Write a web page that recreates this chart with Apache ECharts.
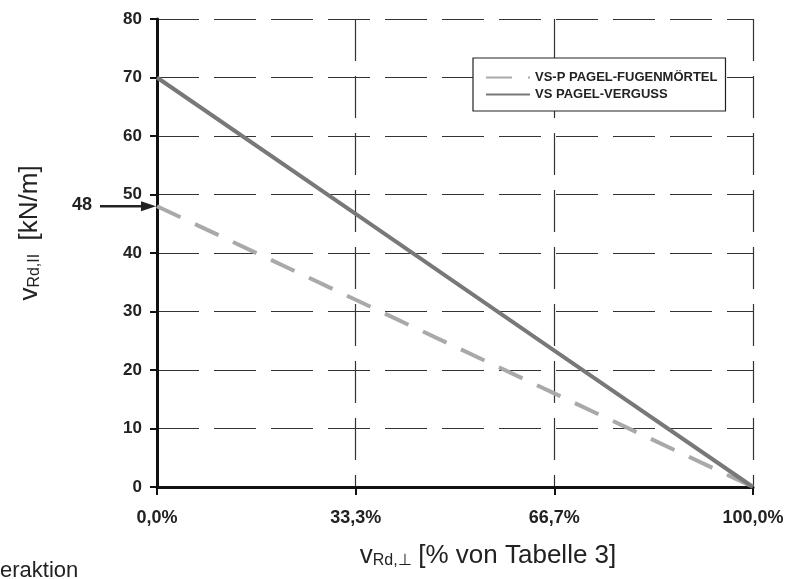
<!DOCTYPE html>
<html><head><meta charset="utf-8">
<script src="https://cdn.jsdelivr.net/npm/echarts@6/dist/echarts.min.js"></script>
<style>html,body{margin:0;padding:0;background:#fff}#c{width:788px;height:579px}</style>
</head><body><div id="c"></div>
<script>
var categories = ['0,0%', '33,3%', '66,7%', '100,0%'];
var fugenmoertel = [48, 32, 16, 0];
var verguss = [70, 46.7, 23.3, 0];
var yTicks = [0, 10, 20, 30, 40, 50, 60, 70, 80];
var markValue = 48;

var chart = echarts.init(document.getElementById('c'));
var gridDash = {type: [42, 15], color: '#333', width: 1.2};
var nameRich = {
  v: {fontFamily: 'Liberation Sans, Arial', fontSize: 26, color: '#222'},
  s: {fontFamily: 'Liberation Sans, Arial', fontSize: 16, color: '#222', verticalAlign: 'bottom', padding: [10, 0, 0, 0]},
  t: {fontFamily: 'Liberation Sans, Arial', fontSize: 26, color: '#222'}
};
chart.setOption({
  animation: false,
  backgroundColor: '#fff',
  grid: {left: 157, right: 35, top: 19, bottom: 92, containLabel: false, outerBoundsMode: 'none'},
  legend: {
    left: 473, top: 58, orient: 'vertical',
    width: 254, height: 51,
    padding: [13, 8, 10, 12], itemGap: 4,
    backgroundColor: '#fff', borderColor: '#222', borderWidth: 1.2,
    itemWidth: 44, itemHeight: 11,
    itemStyle: {opacity: 0},
    textStyle: {fontFamily: 'Liberation Sans Narrow, Liberation Sans, Arial', fontSize: 13, fontWeight: 'bold', color: '#222'},
    data: ['VS-P PAGEL-FUGENMÖRTEL', 'VS PAGEL-VERGUSS']
  },
  xAxis: {
    type: 'category', data: categories, boundaryGap: false,
    axisLine: {lineStyle: {color: '#111', width: 3}},
    axisTick: {show: true, length: 8, lineStyle: {color: '#111', width: 2}},
    axisLabel: {margin: 22, fontFamily: 'Liberation Sans, Arial', fontSize: 18, fontWeight: 'bold', color: '#222'},
    splitLine: {show: true, lineStyle: gridDash},
    name: '{v|v}{s|Rd,⊥}  {t|[% von Tabelle 3]}',
    nameLocation: 'middle', nameGap: 56,
    nameTextStyle: {rich: nameRich, padding: [0, 0, 0, 66]}
  },
  yAxis: {
    type: 'value', min: 0, max: 80, interval: 10,
    axisLine: {show: true, lineStyle: {color: '#111', width: 3}},
    axisTick: {show: true, length: 7, lineStyle: {color: '#111', width: 2}},
    axisLabel: {margin: 15, fontFamily: 'Liberation Sans, Arial', fontSize: 17, fontWeight: 'bold', color: '#222',
      formatter: function (v) { return yTicks.indexOf(v) >= 0 ? String(v) : ''; }},
    splitLine: {show: true, lineStyle: gridDash},
    name: '{v|v}{s|Rd,II}    {t|[kN/m]}',
    nameLocation: 'middle', nameGap: 114, nameRotate: 90,
    nameTextStyle: {rich: nameRich, padding: [0, 0, 0, 40]}
  },
  series: [
    {name: 'VS-P PAGEL-FUGENMÖRTEL', type: 'line', data: fugenmoertel, symbol: 'none', z: 3,
     lineStyle: {color: '#a9a9a9', width: 4, type: [26, 16]}, itemStyle: {color: '#a9a9a9'}},
    {name: 'VS PAGEL-VERGUSS', type: 'line', data: verguss, symbol: 'none', z: 4,
     lineStyle: {color: '#787878', width: 4}, itemStyle: {color: '#787878'}}
  ]
});

var p = chart.convertToPixel({gridIndex: 0}, [0, markValue]);
chart.setOption({
  graphic: [
    {type: 'text', left: 72, top: p[1] - 10,
     style: {text: String(markValue), font: 'bold 18px "Liberation Sans", Arial', fill: '#222'}},
    {type: 'line', shape: {x1: 100, y1: p[1], x2: p[0] - 12, y2: p[1]},
     style: {stroke: '#222', lineWidth: 2.5}},
    {type: 'polygon', shape: {points: [[p[0] - 1, p[1]], [p[0] - 16, p[1] - 5], [p[0] - 16, p[1] + 5]]},
     style: {fill: '#222'}},
    {type: 'text', left: 0, top: 560,
     style: {text: 'eraktion', font: '22px "Liberation Sans", Arial', fill: '#222'}}
  ]
});
</script></body></html>
